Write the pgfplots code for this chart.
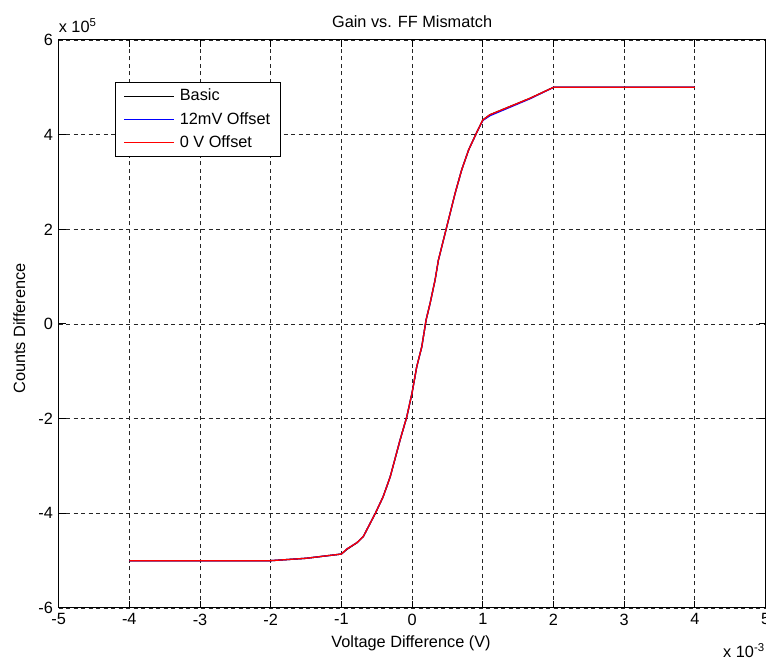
\documentclass[border=0pt]{standalone}
\usepackage{pgfplots}
\pgfplotsset{compat=1.18}
\usepackage{fontspec}
\setmainfont{Liberation Sans}
\begin{document}
\fontsize{16.3}{19}\selectfont
\begin{tikzpicture}
\begin{axis}[
  scale only axis, width=707pt, height=568pt,
  at={(0pt,0pt)}, anchor=south west,
  xmin=-5, xmax=5, ymin=-6, ymax=6,
  xtick={-5,-4,...,5}, ytick={-6,-4,...,6},
  grid=major,
  major grid style={black!85, line width=0.9pt, dash pattern=on 4pt off 3.5pt},
  axis line style={black, line width=1pt},
  tick style={black, line width=1pt},
  tick align=inside, major tick length=7pt, tick pos=both,
  ticklabel style={font=\fontsize{16.3}{19}\selectfont},
  /pgf/number format/assume math mode=true,
  legend cell align=left,
  legend style={at={(0.0798,0.9266)}, anchor=north west, draw=black, line width=1pt,
    fill=white, font=\fontsize{16.3}{19}\selectfont, inner xsep=8pt, inner ysep=5pt,
    row sep=5pt, column sep=3pt},
  legend image code/.code={\draw[#1] (0pt,0pt) -- (50pt,0pt);},
  legend image post style={line width=1.3pt},
]
\addplot[black, line width=1.3pt] coordinates {
(-4,-5.0) (-2,-5.0) (-1.5,-4.95) (-1,-4.86) (-0.92,-4.76) (-0.78,-4.62) (-0.69,-4.49)
(-0.52,-4.0) (-0.41,-3.65) (-0.31,-3.23) (-0.17,-2.45) (-0.075,-1.96) (0,-1.45)
(0.066,-0.90) (0.137,-0.48) (0.198,0.085) (0.255,0.44) (0.325,0.93) (0.372,1.35)
(0.491,2.06) (0.608,2.76) (0.70,3.25) (0.80,3.68) (0.915,4.05) (1.0,4.31)
(1.1,4.42) (1.67,4.77) (2,5.0) (4,5.0)};
\addlegendentry{Basic}
\addplot[blue, line width=1.3pt] coordinates {
(-4,-5.0) (-2,-5.0) (-1.5,-4.95) (-1,-4.86) (-0.92,-4.75) (-0.78,-4.62) (-0.69,-4.49)
(-0.52,-4.0) (-0.41,-3.65) (-0.31,-3.23) (-0.17,-2.45) (-0.075,-1.96) (0,-1.45)
(0.066,-0.90) (0.137,-0.48) (0.198,0.085) (0.255,0.44) (0.325,0.93) (0.372,1.35)
(0.491,2.06) (0.608,2.76) (0.70,3.25) (0.80,3.68) (0.915,4.05) (1.0,4.30)
(1.1,4.40) (1.67,4.76) (2,5.0) (4,5.0)};
\addlegendentry{12mV Offset}
\addplot[red, line width=1.3pt] coordinates {
(-4,-5.0) (-2,-5.0) (-1.5,-4.95) (-1,-4.86) (-0.92,-4.75) (-0.78,-4.62) (-0.69,-4.49)
(-0.52,-4.0) (-0.41,-3.65) (-0.31,-3.23) (-0.17,-2.45) (-0.075,-1.96) (0,-1.45)
(0.066,-0.90) (0.137,-0.48) (0.198,0.085) (0.255,0.44) (0.325,0.93) (0.372,1.35)
(0.491,2.06) (0.608,2.76) (0.70,3.25) (0.80,3.68) (0.915,4.05) (1.0,4.31)
(1.1,4.42) (1.67,4.77) (2,5.0) (4,5.0)};
\addlegendentry{0 V Offset}
\end{axis}
\node[anchor=base] at (353.5pt,580pt) {Gain vs. FF Mismatch};
\node[anchor=base] at (352.4pt,-40pt) {Voltage Difference (V)};
\node[rotate=90, anchor=base] at (-33.6pt,279.5pt) {Counts Difference};
\node[anchor=base west, inner sep=0pt] at (0pt,575pt) {x 10\textsuperscript{5}};
\node[anchor=base west, inner sep=0pt] at (664.4pt,-50pt) {x 10\textsuperscript{-3}};
\pgfresetboundingbox
\useasboundingbox (-58.6pt,-52pt) rectangle (707.4pt,608pt);
\end{tikzpicture}
\end{document}
